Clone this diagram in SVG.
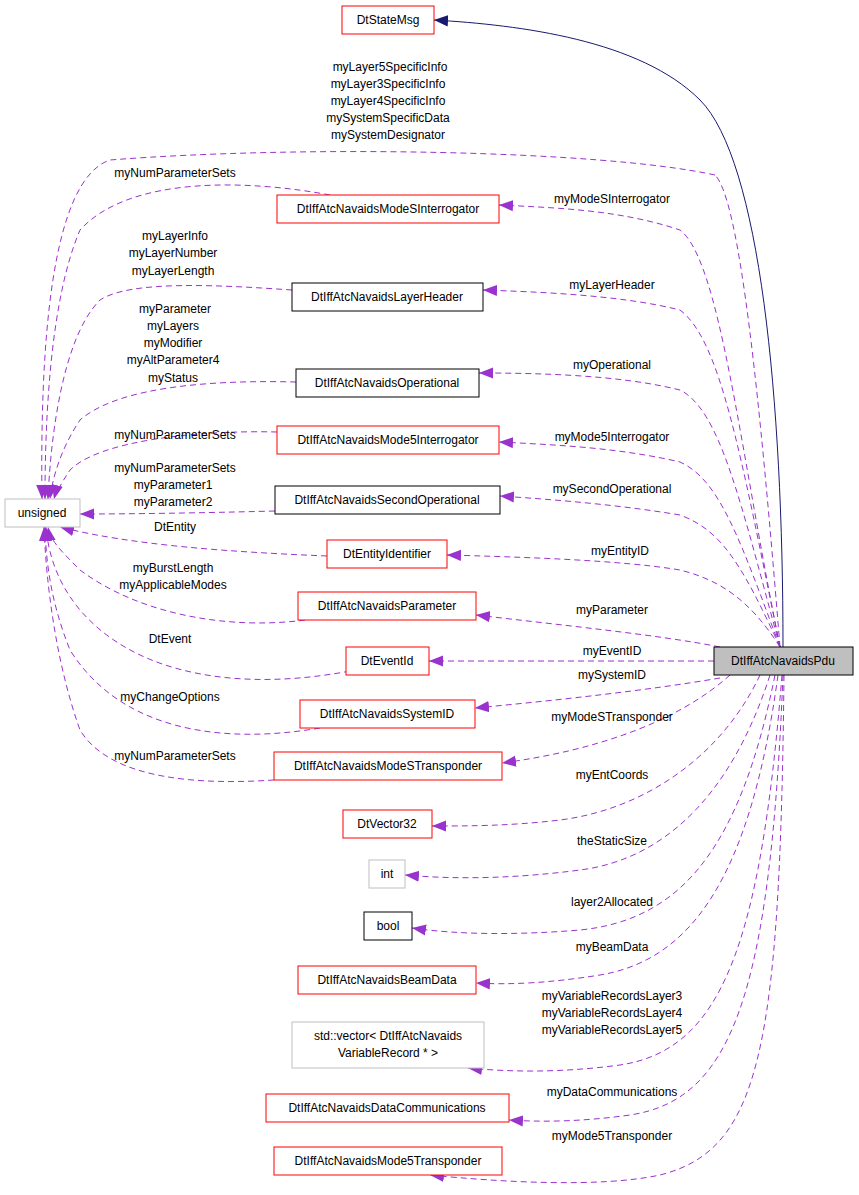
<svg xmlns="http://www.w3.org/2000/svg" width="859" height="1195" viewBox="0 0 859 1195">
<defs>
<marker id="ap" viewBox="0 0 10 10" refX="10" refY="5" markerWidth="14" markerHeight="14" markerUnits="userSpaceOnUse" orient="auto"><path d="M0,1L10,5L0,9z" fill="#9a32cd"/></marker>
<marker id="an" viewBox="0 0 10 10" refX="10" refY="5" markerWidth="14" markerHeight="14" markerUnits="userSpaceOnUse" orient="auto"><path d="M0,1L10,5L0,9z" fill="#191970"/></marker>
</defs>
<style>
text{font-family:"Liberation Sans",Arial,sans-serif;font-size:12px;fill:#000}
.n text{text-anchor:middle}
.r{fill:#fff;stroke:#ff0000;stroke-width:1}
.b{fill:#fff;stroke:#000;stroke-width:1}
.g{fill:#fff;stroke:#bfbfbf;stroke-width:1}
.e path{fill:none;stroke:#9a32cd;stroke-dasharray:6,4;marker-end:url(#ap)}
.l text{text-anchor:middle}
</style>
<rect width="859" height="1195" fill="#fff"/>
<g class="e">
<path d="M783,647C783,400 760,160 700,100C640,40 520,25 434,20" style="stroke:#191970;stroke-dasharray:none;marker-end:url(#an)"/>
<path d="M715,175C600,150 300,145 110,160C50,180 40,350 42,499" style="stroke-dasharray:6,4"/>
<path d="M780,647C760,400 740,200 715,175" style="marker-end:none"/>
<path d="M330,195C250,180 130,175 80,230C50,300 45,420 45,499"/>
<path d="M780,647C740,450 720,260 680,230C620,210 560,208 499,205"/>
<path d="M292,290C220,285 130,280 100,300C60,340 50,450 48,499"/>
<path d="M780,647C740,450 720,340 680,310C620,295 540,292 483,290"/>
<path d="M296,382C220,380 120,385 80,420C60,450 52,480 50,499"/>
<path d="M780,647C740,500 720,410 680,390C620,375 540,373 479,373"/>
<path d="M277,432C200,430 100,440 70,470C60,485 55,495 54,499"/>
<path d="M780,647C740,540 720,480 680,462C620,448 560,445 499,442"/>
<path d="M275,511C200,513 130,514 80,514"/>
<path d="M780,647C740,560 720,530 680,515C620,505 560,500 500,496"/>
<path d="M327,556C230,552 130,545 60,527"/>
<path d="M780,647C750,600 720,580 680,570C620,560 520,557 447,555"/>
<path d="M305,620C230,630 140,615 80,570C60,550 50,540 48,527"/>
<path d="M720,647C660,635 560,625 476,615"/>
<path d="M350,671C250,690 140,680 80,610C55,580 48,550 46,527"/>
<path d="M714,661L429,661"/>
<path d="M320,728C220,745 120,730 70,650C50,600 46,560 45,527"/>
<path d="M720,678C650,690 560,700 475,708"/>
<path d="M274,780C200,785 110,780 80,730C55,660 46,580 44,527"/>
<path d="M730,675C680,720 600,750 502,763"/>
<path d="M760,675C720,760 640,810 560,820C510,826 470,826 432,826"/>
<path d="M770,675C730,800 660,860 580,870C520,878 460,880 405,875"/>
<path d="M775,675C740,850 680,920 580,930C520,935 460,935 412,928"/>
<path d="M778,675C750,880 690,960 600,975C550,983 510,985 476,983"/>
<path d="M782,675C760,950 720,1050 620,1065C560,1073 510,1072 468,1068"/>
<path d="M783,675C770,1000 730,1100 630,1115C580,1122 540,1122 509,1120"/>
<path d="M784,675C780,1050 760,1150 660,1175C600,1188 500,1182 430,1175"/>
</g>
<g class="l">
<text x="390" y="71">myLayer5SpecificInfo</text>
<text x="388" y="88">myLayer3SpecificInfo</text>
<text x="388" y="105">myLayer4SpecificInfo</text>
<text x="388" y="122">mySystemSpecificData</text>
<text x="388" y="139">mySystemDesignator</text>
<text x="175" y="177">myNumParameterSets</text>
<text x="175" y="240">myLayerInfo</text>
<text x="173" y="257">myLayerNumber</text>
<text x="173" y="275">myLayerLength</text>
<text x="175" y="313">myParameter</text>
<text x="173" y="330">myLayers</text>
<text x="173" y="347">myModifier</text>
<text x="173" y="364">myAltParameter4</text>
<text x="173" y="382">myStatus</text>
<text x="175" y="439">myNumParameterSets</text>
<text x="175" y="472">myNumParameterSets</text>
<text x="173" y="489">myParameter1</text>
<text x="173" y="506">myParameter2</text>
<text x="175" y="531">DtEntity</text>
<text x="173" y="572">myBurstLength</text>
<text x="173" y="589">myApplicableModes</text>
<text x="170" y="643">DtEvent</text>
<text x="170" y="701">myChangeOptions</text>
<text x="175" y="760">myNumParameterSets</text>
<text x="612" y="203">myModeSInterrogator</text>
<text x="612" y="289">myLayerHeader</text>
<text x="612" y="369">myOperational</text>
<text x="612" y="441">myMode5Interrogator</text>
<text x="612" y="493">mySecondOperational</text>
<text x="620" y="555">myEntityID</text>
<text x="612" y="614">myParameter</text>
<text x="612" y="655">myEventID</text>
<text x="612" y="679">mySystemID</text>
<text x="612" y="721">myModeSTransponder</text>
<text x="612" y="779">myEntCoords</text>
<text x="612" y="845">theStaticSize</text>
<text x="612" y="906">layer2Allocated</text>
<text x="612" y="951">myBeamData</text>
<text x="612" y="1000">myVariableRecordsLayer3</text>
<text x="612" y="1017">myVariableRecordsLayer4</text>
<text x="612" y="1034">myVariableRecordsLayer5</text>
<text x="612" y="1096">myDataCommunications</text>
<text x="612" y="1140">myMode5Transponder</text>
</g>
<g class="n" id="pdu"><rect x="714" y="647" width="139" height="28" fill="#bfbfbf" stroke="#000"/><text x="783" y="665">DtIffAtcNavaidsPdu</text></g>
<g class="n" id="statemsg"><rect class="r" x="342" y="6" width="92" height="28"/><text x="388" y="24">DtStateMsg</text></g>
<g class="n" id="modesint"><rect class="r" x="277" y="195" width="222" height="28"/><text x="388" y="213">DtIffAtcNavaidsModeSInterrogator</text></g>
<g class="n" id="layerhdr"><rect class="b" x="292" y="283" width="191" height="28"/><text x="387" y="301">DtIffAtcNavaidsLayerHeader</text></g>
<g class="n" id="oper"><rect class="b" x="296" y="369" width="183" height="28"/><text x="387" y="387">DtIffAtcNavaidsOperational</text></g>
<g class="n" id="mode5int"><rect class="r" x="277" y="426" width="222" height="28"/><text x="388" y="444">DtIffAtcNavaidsMode5Interrogator</text></g>
<g class="n" id="secoper"><rect class="b" x="275" y="486" width="225" height="28"/><text x="387" y="504">DtIffAtcNavaidsSecondOperational</text></g>
<g class="n" id="entid"><rect class="r" x="327" y="540" width="120" height="28"/><text x="387" y="558">DtEntityIdentifier</text></g>
<g class="n" id="param"><rect class="r" x="298" y="592" width="178" height="28"/><text x="387" y="610">DtIffAtcNavaidsParameter</text></g>
<g class="n" id="eventid"><rect class="r" x="346" y="647" width="83" height="28"/><text x="387" y="665">DtEventId</text></g>
<g class="n" id="sysid"><rect class="r" x="300" y="700" width="175" height="28"/><text x="387" y="718">DtIffAtcNavaidsSystemID</text></g>
<g class="n" id="modestr"><rect class="r" x="274" y="752" width="228" height="28"/><text x="388" y="770">DtIffAtcNavaidsModeSTransponder</text></g>
<g class="n" id="vec32"><rect class="r" x="343" y="810" width="89" height="28"/><text x="387" y="828">DtVector32</text></g>
<g class="n" id="int"><rect class="g" x="369" y="860" width="36" height="28"/><text x="387" y="878">int</text></g>
<g class="n" id="bool"><rect class="b" x="364" y="912" width="48" height="28"/><text x="388" y="930">bool</text></g>
<g class="n" id="beam"><rect class="r" x="298" y="966" width="178" height="28"/><text x="387" y="984">DtIffAtcNavaidsBeamData</text></g>
<g class="n" id="vector"><rect class="g" x="292" y="1022" width="192" height="46"/><text x="388" y="1040">std::vector&lt; DtIffAtcNavaids</text><text x="388" y="1057">VariableRecord * &gt;</text></g>
<g class="n" id="datacomm"><rect class="r" x="266" y="1094" width="243" height="28"/><text x="387" y="1112">DtIffAtcNavaidsDataCommunications</text></g>
<g class="n" id="mode5tr"><rect class="r" x="274" y="1147" width="228" height="28"/><text x="388" y="1165">DtIffAtcNavaidsMode5Transponder</text></g>
<g class="n" id="unsigned"><rect class="g" x="5" y="499" width="75" height="28"/><text x="42" y="517">unsigned</text></g>
</svg>
